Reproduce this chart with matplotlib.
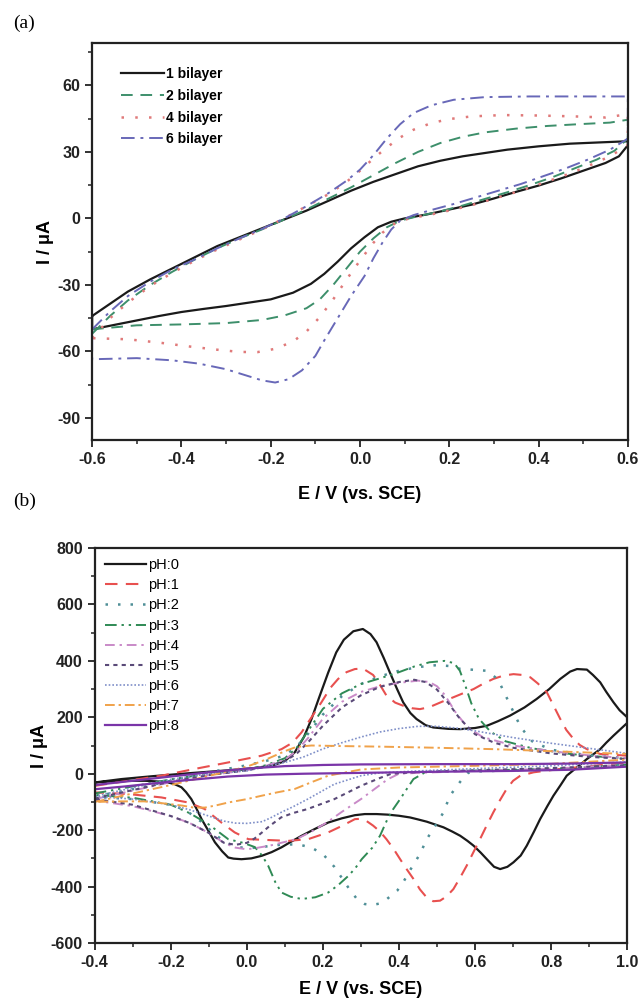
import matplotlib
matplotlib.use("Agg")
import matplotlib.pyplot as plt
from matplotlib.ticker import MultipleLocator

plt.rcParams['font.family'] = ['Liberation Sans', 'DejaVu Sans']
plt.rcParams['axes.unicode_minus'] = False

# ---------------- panel (a): CV loops for different bilayer numbers ----------------
a_labels = ["1 bilayer", "2 bilayer", "4 bilayer", "6 bilayer"]

a1_E = [-0.6, -0.56, -0.52, -0.47, -0.42, -0.37, -0.32, -0.27, -0.22, -0.17, -0.12, -0.07, -0.02, 0.03, 0.08,
        0.13, 0.18, 0.23, 0.28, 0.33, 0.40, 0.47, 0.54, 0.6,
        0.6, 0.58, 0.55, 0.5, 0.45, 0.4, 0.35, 0.3, 0.25, 0.2, 0.15, 0.1, 0.07, 0.04, 0.01, -0.02, -0.05,
        -0.08, -0.11, -0.15, -0.2, -0.25, -0.3, -0.35, -0.4, -0.45, -0.5, -0.55, -0.6, -0.6]
a1_I = [-44, -38.5, -33, -27.5, -22.5, -17.5, -12.5, -8.5, -4.5, -0.5, 3.5, 8, 12.5, 16.5, 20,
        23.5, 26, 28, 29.5, 31, 32.5, 33.7, 34.3, 34.8,
        33, 28, 25, 21.5, 18, 14.8, 12, 9, 6.2, 4, 1.8, 0, -1.5, -4, -8.5, -13.5, -19.5,
        -25, -29.5, -33.5, -36.5, -38, -39.5, -40.8, -42.2, -44, -46, -48, -50, -44]

a2_E = [-0.6, -0.56, -0.52, -0.47, -0.42, -0.37, -0.32, -0.27, -0.22, -0.17, -0.12, -0.07, -0.02, 0.03, 0.08,
        0.13, 0.18, 0.23, 0.28, 0.35, 0.42, 0.5, 0.56, 0.6,
        0.6, 0.57, 0.53, 0.48, 0.43, 0.38, 0.33, 0.28, 0.23, 0.18, 0.13, 0.09, 0.06, 0.03, 0.0, -0.03,
        -0.06, -0.09, -0.12, -0.17, -0.22, -0.3, -0.4, -0.5, -0.6, -0.6]
a2_I = [-52, -44, -37, -30, -24, -18.5, -13.5, -9, -5, -0.5, 4, 9, 14, 19.5, 25,
        30, 34, 36.8, 38.8, 40.5, 41.7, 42.6, 43.2, 44.5,
        36, 30.5, 26.5, 22.5, 18.5, 15, 11.8, 8.8, 5.8, 3.2, 1, -1, -4, -9, -15, -22.5,
        -30, -36.5, -40.5, -43.8, -45.8, -47.2, -47.8, -48.2, -50, -52]

a4_E = [-0.6, -0.56, -0.52, -0.47, -0.42, -0.37, -0.32, -0.27, -0.22, -0.17, -0.12, -0.07, -0.03, 0.0, 0.03,
        0.06, 0.09, 0.12, 0.16, 0.2, 0.25, 0.32, 0.4, 0.48, 0.55, 0.6,
        0.6, 0.56, 0.51, 0.46, 0.41, 0.36, 0.31, 0.26, 0.21, 0.16, 0.11, 0.08, 0.05, 0.03, 0.0, -0.03,
        -0.06, -0.09, -0.12, -0.15, -0.19, -0.23, -0.27, -0.32, -0.38, -0.45, -0.52, -0.6]
a4_I = [-54, -45, -38, -30.5, -24.5, -19, -14, -9.5, -5, 0, 5.5, 11, 16.5, 21.5, 27,
        32, 36.5, 40, 43, 44.8, 46, 46.6, 46.4, 46, 45.5, 47,
        33, 28, 23.5, 19.5, 16, 12.5, 9.5, 6.5, 4, 1.8, 0, -2, -6.5, -11, -19, -27.5,
        -36.5, -44.5, -51, -55.5, -58.8, -60.3, -60.2, -59.2, -57.8, -56, -54.5, -54]

a6_E = [-0.6, -0.56, -0.52, -0.47, -0.42, -0.37, -0.32, -0.27, -0.22, -0.17, -0.12, -0.07, -0.03, 0.0, 0.03,
        0.06, 0.09, 0.12, 0.16, 0.21, 0.28, 0.38, 0.48, 0.6,
        0.6, 0.56, 0.51, 0.46, 0.41, 0.36, 0.31, 0.26, 0.21, 0.16, 0.12, 0.09, 0.07, 0.05, 0.03, 0.01,
        -0.02, -0.05, -0.08, -0.1, -0.13, -0.16, -0.19, -0.22, -0.26, -0.3, -0.36, -0.42, -0.5, -0.6, -0.6]
a6_I = [-50, -42, -35, -28.5, -23, -18.5, -13.5, -9, -4.8, 0, 5.5, 11.5, 17, 22, 28.5,
        36, 42.5, 47.5, 51, 53.5, 54.7, 55, 55, 55,
        36, 31, 26.5, 22.5, 19, 15.5, 12.5, 9.5, 6.5, 3.8, 1.5, -1, -5, -11, -18, -26,
        -35, -45, -55, -62, -68.5, -72.5, -74, -73, -70.5, -68, -65.5, -64, -63, -63.5, -50]

# ---------------- panel (b): CV loops at different pH ----------------
b_labels = ["pH:0", "pH:1", "pH:2", "pH:3", "pH:4", "pH:5", "pH:6", "pH:7", "pH:8"]

ph0_E = [-0.4, -0.33, -0.25, -0.15, -0.05, 0.02, 0.07, 0.1, 0.126, 0.15, 0.17, 0.19, 0.214, 0.235, 0.255,
         0.28, 0.305, 0.325, 0.341, 0.36, 0.376, 0.395, 0.411, 0.43, 0.446, 0.47, 0.49, 0.53, 0.561, 0.6,
         0.631, 0.66, 0.692, 0.73, 0.762, 0.795, 0.824, 0.85, 0.868, 0.894, 0.91, 0.929, 0.945, 0.964, 0.98, 1.0,
         1.0, 0.98, 0.964, 0.945, 0.929, 0.91, 0.894, 0.87, 0.841, 0.825, 0.806, 0.79, 0.771, 0.755, 0.736,
         0.72, 0.701, 0.685, 0.666, 0.65, 0.631, 0.615, 0.596, 0.58, 0.561, 0.54, 0.517, 0.495, 0.473, 0.45,
         0.429, 0.4, 0.37, 0.341, 0.31, 0.284, 0.25, 0.214, 0.18, 0.144, 0.115, 0.091, 0.065, 0.039, 0.012,
         -0.014, -0.035, -0.049, -0.065, -0.084, -0.1, -0.119, -0.132, -0.146, -0.16, -0.172, -0.19, -0.207,
         -0.24, -0.268, -0.33, -0.4]
ph0_I = [-31, -19, -9, 2, 12, 20, 30, 45, 76, 130, 194, 270, 359, 430, 475,
         505, 513, 495, 466, 410, 359, 300, 253, 215, 194, 172, 164, 159, 158, 162,
         170, 186, 206, 235, 265, 300, 336, 362, 371, 369, 350, 324, 290, 253, 225, 200,
         180, 155, 135, 110, 87, 68, 52, 25, -7, -40, -78, -115, -161, -205, -255,
         -290, -314, -330, -338, -330, -303, -280, -255, -238, -220, -205, -190, -180, -170, -162,
         -155, -149, -145, -143, -143, -147, -158, -173, -195, -220, -242, -261, -278, -291, -300,
         -303, -301, -297, -275, -243, -205, -161, -125, -90, -65, -48, -37, -31,
         -27, -25, -25, -31]

ph1_E = [-0.4, -0.312, -0.225, -0.137, -0.049, 0.039, 0.091, 0.12, 0.144, 0.17, 0.196, 0.22, 0.24, 0.262,
         0.284, 0.305, 0.332, 0.35, 0.367, 0.39, 0.411, 0.435, 0.455, 0.48, 0.499, 0.52, 0.543, 0.57, 0.596,
         0.62, 0.648, 0.675, 0.701, 0.725, 0.745, 0.765, 0.789, 0.805, 0.824, 0.84, 0.859, 0.875, 0.894, 0.929, 1.0,
         1.0, 0.912, 0.824, 0.754, 0.719, 0.7, 0.683, 0.665, 0.648, 0.63, 0.613, 0.595, 0.578, 0.56, 0.543,
         0.525, 0.508, 0.49, 0.473, 0.455, 0.438, 0.42, 0.403, 0.385, 0.367, 0.35, 0.332, 0.315, 0.297, 0.284,
         0.25, 0.214, 0.161, 0.109, 0.056, 0.004, -0.032, -0.067, -0.111, -0.154, -0.225, -0.312, -0.4]
ph1_I = [-43, -25, -7, 17, 40, 64, 87, 110, 147, 200, 253, 305, 336, 360,
         371, 373, 350, 315, 277, 252, 241, 232, 229, 236, 247, 259, 271, 286, 300,
         318, 336, 348, 353, 350, 342, 320, 288, 245, 194, 155, 123, 102, 87, 70, 64,
         40, 28, 17, 5, -7, -25, -54, -95, -137, -185, -232, -280, -326, -370, -409,
         -435, -450, -452, -439, -410, -373, -338, -303, -265, -232, -205, -184, -168, -160, -161,
         -185, -208, -232, -238, -235, -232, -208, -173, -125, -102, -84, -72, -66]

ph2_E = [-0.4, -0.3, -0.2, -0.1, 0.0, 0.05, 0.1, 0.13, 0.16, 0.2, 0.25, 0.3, 0.35, 0.4, 0.45, 0.5, 0.53,
         0.56, 0.6, 0.63, 0.66, 0.69, 0.72, 0.75, 0.8, 0.9, 1.0,
         1.0, 0.9, 0.8, 0.7, 0.6, 0.58, 0.56, 0.534, 0.517, 0.495, 0.473, 0.455, 0.43, 0.411, 0.395, 0.381,
         0.365, 0.35, 0.33, 0.31, 0.29, 0.27, 0.25, 0.23, 0.2, 0.17, 0.14, 0.1, 0.05, 0.0, -0.04, -0.08,
         -0.12, -0.16, -0.2, -0.3, -0.4]
ph2_I = [-80, -55, -25, 5, 30, 45, 65, 95, 140, 210, 275, 318, 345, 365, 378, 385, 382,
         372, 368, 365, 335, 250, 165, 115, 85, 65, 55,
         35, 22, 15, 12, 8, 2, -30, -78, -137, -185, -232, -285, -340, -385, -415, -430,
         -448, -460, -465, -462, -445, -410, -370, -330, -285, -262, -252, -250, -258, -265, -255, -220,
         -170, -130, -110, -90, -82]

ph3_E = [-0.4, -0.3, -0.2, -0.1, 0.0, 0.05, 0.1, 0.13, 0.16, 0.2, 0.25, 0.3, 0.35, 0.4, 0.44, 0.48, 0.52,
         0.545, 0.56, 0.575, 0.59, 0.61, 0.64, 0.68, 0.75, 0.85, 1.0,
         1.0, 0.85, 0.7, 0.55, 0.47, 0.438, 0.42, 0.403, 0.385, 0.37, 0.35, 0.33, 0.302, 0.285, 0.267, 0.24,
         0.214, 0.18, 0.144, 0.115, 0.091, 0.075, 0.056, 0.04, 0.021, -0.01, -0.049, -0.1, -0.15, -0.2,
         -0.3, -0.4]
ph3_I = [-70, -45, -20, 0, 15, 30, 55, 90, 150, 230, 285, 318, 338, 360, 380, 395, 400,
         392, 365, 310, 250, 195, 150, 115, 90, 70, 52,
         32, 20, 14, 10, 6, -19, -55, -90, -125, -160, -220, -262, -303, -335, -362, -395,
         -421, -438, -444, -436, -421, -385, -326, -290, -260, -245, -232, -180, -140, -110,
         -85, -75]

ph4_E = [-0.4, -0.3, -0.2, -0.1, 0.0, 0.05, 0.1, 0.13, 0.16, 0.2, 0.25, 0.3, 0.35, 0.4, 0.45, 0.48, 0.5,
         0.52, 0.55, 0.58, 0.62, 0.7, 0.8, 0.9, 1.0,
         1.0, 0.8, 0.6, 0.45, 0.4, 0.37, 0.35, 0.3, 0.25, 0.21, 0.17, 0.13, 0.09, 0.06, 0.03, 0.0, -0.03,
         -0.06, -0.1, -0.15, -0.2, -0.3, -0.4]
ph4_I = [-90, -60, -30, -5, 12, 28, 50, 80, 125, 195, 255, 290, 310, 322, 330, 325, 310,
         280, 215, 165, 130, 100, 80, 65, 55,
         32, 18, 10, 3, 0, -20, -40, -90, -135, -173, -205, -232, -245, -255, -262, -268, -262,
         -245, -210, -175, -150, -115, -95]

ph5_E = [-0.4, -0.3, -0.2, -0.1, 0.0, 0.05, 0.1, 0.13, 0.16, 0.2, 0.25, 0.3, 0.35, 0.4, 0.44, 0.47, 0.5,
         0.53, 0.56, 0.6, 0.65, 0.7, 0.8, 0.9, 1.0,
         1.0, 0.8, 0.6, 0.45, 0.38, 0.35, 0.3, 0.26, 0.23, 0.2, 0.16, 0.12, 0.09, 0.06, 0.04, 0.02, 0.0,
         -0.03, -0.06, -0.1, -0.15, -0.2, -0.3, -0.4]
ph5_I = [-88, -58, -28, -5, 12, 25, 45, 70, 110, 170, 235, 278, 308, 325, 333, 325, 298,
         250, 195, 140, 110, 92, 72, 60, 52,
         30, 20, 12, 6, 0, -15, -43, -70, -90, -105, -125, -140, -155, -185, -208, -230, -245,
         -252, -245, -210, -175, -150, -110, -90]

ph6_E = [-0.4, -0.3, -0.2, -0.1, 0.0, 0.1, 0.15, 0.2, 0.25, 0.3, 0.35, 0.4, 0.45, 0.5, 0.55, 0.6, 0.65,
         0.7, 0.75, 0.8, 0.9, 1.0,
         1.0, 0.8, 0.6, 0.45, 0.35, 0.3, 0.23, 0.16, 0.12, 0.09, 0.06, 0.04, 0.0, -0.03, -0.06, -0.1,
         -0.15, -0.2, -0.3, -0.4]
ph6_I = [-80, -50, -20, 0, 10, 40, 60, 88, 110, 130, 148, 160, 168, 168, 162, 152, 140,
         128, 118, 108, 90, 72,
         42, 28, 18, 10, 3, -7, -37, -90, -118, -137, -158, -170, -176, -175, -168, -150,
         -128, -110, -90, -80]

ph7_E = [-0.4, -0.3, -0.2, -0.1, 0.0, 0.05, 0.1, 0.13, 0.17, 0.25, 0.35, 0.5, 0.65, 0.8, 0.9, 1.0,
         1.0, 0.8, 0.6, 0.4, 0.3, 0.214, 0.17, 0.126, 0.08, 0.039, 0.0, -0.049, -0.08, -0.11, -0.14,
         -0.17, -0.22, -0.27, -0.33, -0.4]
ph7_I = [-100, -70, -40, -8, 25, 50, 80, 95, 100, 98, 96, 92, 87, 80, 75, 70,
         50, 35, 28, 22, 15, -7, -30, -54, -66, -78, -90, -102, -112, -120, -120,
         -113, -105, -98, -98, -100]

ph8_E = [-0.4, -0.3, -0.2, -0.1, 0.0, 0.1, 0.2, 0.3, 0.5, 0.7, 0.85, 1.0,
         1.0, 0.85, 0.7, 0.5, 0.3, 0.15, 0.05, -0.05, -0.15, -0.25, -0.32, -0.4]
ph8_I = [-40, -25, -10, 5, 18, 27, 31, 33, 34, 34, 36, 40,
         25, 14, 10, 7, 3, 0, -3, -10, -22, -35, -45, -55]

# ---------------- figure ----------------
fig = plt.figure(figsize=(6.4, 10.05), dpi=100)
ax1 = fig.add_axes([0.144, 0.562, 0.837, 0.395])
ax2 = fig.add_axes([0.148, 0.0617, 0.832, 0.393])

a_styles = [
    dict(color="#1a1a1a", ls="-", lw=1.6),
    dict(color="#3d8f6b", ls=(0, (6, 4)), lw=1.4),
    dict(color="#e07a7a", ls=(0, (1, 4.5)), lw=1.8),
    dict(color="#6868b8", ls=(0, (7, 3, 1.5, 3)), lw=1.4),
]
a_data = [(a1_E, a1_I), (a2_E, a2_I), (a4_E, a4_I), (a6_E, a6_I)]
for (E, I), lab, st in zip(a_data, a_labels, a_styles):
    ax1.plot(E, I, label=lab, **st)

b_styles = [
    dict(color="#1a1a1a", ls="-", lw=1.6),
    dict(color="#e8504f", ls=(0, (6, 4)), lw=1.5),
    dict(color="#4f8f97", ls=(0, (1, 4)), lw=1.8),
    dict(color="#2f8a55", ls=(0, (6, 2.5, 1.2, 2.5, 1.2, 2.5)), lw=1.4),
    dict(color="#c98ac8", ls=(0, (5, 2.5, 1.2, 2.5)), lw=1.4),
    dict(color="#5a4a78", ls=(0, (2, 2)), lw=1.5),
    dict(color="#7f8fc8", ls=(0, (1, 1.2)), lw=1.2),
    dict(color="#f0a24a", ls=(0, (5, 2, 1.2, 2)), lw=1.4),
    dict(color="#7a35a8", ls="-", lw=1.6),
]
b_data = [(ph0_E, ph0_I), (ph1_E, ph1_I), (ph2_E, ph2_I), (ph3_E, ph3_I), (ph4_E, ph4_I),
          (ph5_E, ph5_I), (ph6_E, ph6_I), (ph7_E, ph7_I), (ph8_E, ph8_I)]
for (E, I), lab, st in zip(b_data, b_labels, b_styles):
    ax2.plot(E, I, label=lab, **st)

# axes cosmetics
ax1.set_xlim(-0.6, 0.6)
ax1.set_ylim(-100, 79)
ax1.xaxis.set_major_locator(MultipleLocator(0.2))
ax1.xaxis.set_minor_locator(MultipleLocator(0.1))
ax1.yaxis.set_major_locator(MultipleLocator(30))
ax1.yaxis.set_minor_locator(MultipleLocator(15))
ax1.xaxis.set_major_formatter(plt.FuncFormatter(lambda v, p: f"{v:.1f}"))

ax2.set_xlim(-0.4, 1.0)
ax2.set_ylim(-600, 800)
ax2.xaxis.set_major_locator(MultipleLocator(0.2))
ax2.xaxis.set_minor_locator(MultipleLocator(0.1))
ax2.yaxis.set_major_locator(MultipleLocator(200))
ax2.yaxis.set_minor_locator(MultipleLocator(100))
ax2.xaxis.set_major_formatter(plt.FuncFormatter(lambda v, p: f"{v:.1f}"))

for ax, xpad in ((ax1, 14), (ax2, 8)):
    for sp in ax.spines.values():
        sp.set_linewidth(1.6)
        sp.set_color("#222222")
    ax.tick_params(which="major", direction="out", length=5, width=1.3, labelsize=11.5,
                   top=False, right=False, colors="#222222")
    ax.tick_params(which="minor", direction="out", length=3, width=1.1, top=False, right=False,
                   colors="#222222")
    for t in ax.get_xticklabels() + ax.get_yticklabels():
        t.set_fontweight("bold")
    ax.set_xlabel("E / V (vs. SCE)", fontsize=13, fontweight="bold", labelpad=xpad)
    ax.set_ylabel("I / μA", fontsize=13, fontweight="bold", labelpad=2)

ax1.legend(loc="upper left", frameon=False, prop=dict(weight="bold", size=10),
           handlelength=3.1, handletextpad=0.15, labelspacing=0.55, borderaxespad=0.9,
           bbox_to_anchor=(0.02, 0.985))
ax2.legend(loc="upper left", frameon=False, prop=dict(size=10.5),
           handlelength=2.8, handletextpad=0.15, labelspacing=0.42, borderaxespad=0.3,
           bbox_to_anchor=(0.0, 1.0))

fig.text(0.02, 0.985, "(a)", fontsize=14, family="Liberation Serif", va="top")
fig.text(0.02, 0.51, "(b)", fontsize=14, family="Liberation Serif", va="top")

fig.savefig("out.png", dpi=100)
